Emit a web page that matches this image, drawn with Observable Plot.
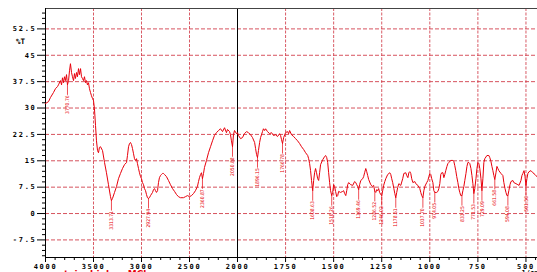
<!DOCTYPE html>
<html><head><meta charset="utf-8">
<script src="https://cdn.jsdelivr.net/npm/d3@7"></script>
<script src="https://cdn.jsdelivr.net/npm/@observablehq/plot@0.6"></script>
<style>
html,body{margin:0;padding:0;overflow:hidden;background:#fff}
g[aria-label="x-axis tick label"] text, g[aria-label="y-axis tick label"] text {letter-spacing:1.7px}
</style>
</head><body><div id="chart"></div>
<script>
const wavenumber = [4000,3969,3948,3917,3896,3875,3865,3844,3833,3823,3813,3802,3792,3781,3771,3760,3750,3740,3729,3719,3708,3698,3688,3677,3667,3656,3646,3635,3625,3615,3604,3594,3583,3573,3563,3552,3542,3531,3521,3510,3500,3490,3479,3469,3458,3448,3438,3427,3406,3385,3365,3344,3323,3313,3302,3281,3260,3240,3219,3198,3177,3156,3146,3135,3125,3115,3104,3094,3083,3073,3063,3052,3042,3031,3021,3010,3000,2990,2979,2969,2958,2948,2938,2927,2917,2906,2885,2875,2865,2854,2844,2833,2823,2813,2802,2792,2781,2771,2760,2740,2719,2698,2677,2656,2635,2615,2594,2563,2542,2521,2500,2479,2458,2438,2417,2406,2396,2385,2375,2365,2354,2344,2323,2302,2281,2260,2240,2219,2198,2177,2156,2135,2115,2104,2083,2073,2063,2052,2042,2031,2010,2000,
1995,1984,1974,1964,1953,1943,1932,1922,1911,1906,1901,1896,1891,1885,1880,1870,1865,1859,1854,1844,1833,1823,1813,1802,1792,1781,1776,1771,1766,1760,1750,1740,1734,1729,1719,1708,1698,1688,1677,1667,1656,1646,1635,1630,1625,1620,1615,1609,1604,1599,1594,1589,1583,1578,1573,1568,1557,1547,1542,1536,1531,1526,1521,1516,1510,1505,1500,1495,1490,1484,1479,1474,1464,1453,1448,1443,1437,1432,1427,1422,1411,1401,1391,1385,1380,1375,1370,1365,1359,1349,1344,1339,1333,1328,1323,1318,1307,1297,1292,1286,1281,1276,1271,1266,1261,1255,1250,1245,1240,1234,1229,1219,1208,1203,1198,1193,1187,1182,1177,1172,1167,1161,1151,1141,1135,1125,1120,1114,1109,1104,1099,1094,1088,1078,1073,1062,1052,1047,1042,1036,1031,1026,1016,1010,1005,1000,995,990,984,979,974,964,958,953,948,943,938,932,927,922,917,911,906,901,891,880,875,870,865,860,854,849,844,839,833,828,823,818,812,807,802,797,792,786,781,776,771,766,760,755,750,745,740,734,729,724,719,714,703,693,688,682,677,672,667,662,656,651,646,641,630,620,615,609,604,599,594,589,583,578,568,563,552,542,536,526,521,516,510,505,500,495,490,484,474,464,453,438];
const transmittance = [31.3,31.8,33.0,34.4,35.5,36.1,36.6,37.8,36.6,38.6,37.2,38.9,37.8,39.5,36.6,37.8,40.6,42.6,40.1,38.9,37.8,39.8,38.4,40.1,38.9,41.2,39.5,41.2,38.9,38.4,37.8,38.9,37.2,37.8,36.6,37.2,35.5,34.4,33.5,32.7,32.1,29.8,25.0,20.7,17.9,17.3,18.8,19.0,17.9,14.5,11.6,8.2,4.8,3.7,4.3,6.0,7.7,9.9,11.4,12.8,13.9,14.5,16.5,19.0,19.9,20.2,19.6,18.5,17.0,15.6,15.1,15.6,14.2,12.8,11.6,10.5,9.9,8.8,8.2,7.1,6.5,5.4,4.5,4.3,4.5,5.1,6.0,6.8,7.1,6.5,6.0,6.5,8.8,10.2,10.8,11.1,11.4,11.4,11.1,10.5,9.4,8.2,7.1,6.3,5.4,4.8,4.5,4.5,4.8,5.1,4.8,5.1,5.7,6.5,7.7,9.1,10.2,11.1,11.6,9.9,11.4,13.1,15.1,17.3,19.0,20.7,22.2,23.0,23.6,24.1,23.3,24.4,23.0,23.9,23.3,22.4,20.7,19.0,22.4,23.6,22.7,23.0,
22.2,21.3,21.6,22.7,23.3,23.0,22.4,21.6,20.2,18.5,16.8,15.9,17.9,20.2,21.6,23.3,24.1,23.6,24.1,23.3,22.7,23.0,22.2,22.4,21.9,22.7,22.2,21.0,19.9,21.6,23.0,23.3,22.7,23.6,22.4,21.9,21.3,20.7,19.9,19.0,18.2,17.3,16.5,15.6,14.2,12.2,9.4,6.5,9.4,11.6,12.8,11.6,9.9,9.4,11.6,13.9,15.3,16.2,16.5,15.9,14.5,11.6,8.8,6.5,5.1,6.0,8.2,7.7,6.3,4.8,5.1,6.3,6.0,6.3,6.5,5.7,5.1,6.5,8.2,8.8,8.2,8.0,9.1,8.8,8.2,7.7,6.8,8.2,9.4,9.9,10.5,11.6,12.8,11.9,10.8,9.7,8.2,7.7,8.0,6.3,6.0,6.8,6.5,7.1,6.0,5.4,5.1,6.5,8.0,9.1,9.9,11.1,11.6,11.1,9.9,8.8,7.1,5.7,4.5,6.0,7.4,8.5,8.0,9.9,11.4,11.6,10.8,10.2,11.6,11.9,11.4,9.9,8.8,9.1,8.5,8.0,7.1,6.0,5.1,4.5,6.5,7.7,8.8,9.4,10.5,11.4,11.1,9.9,8.8,6.5,6.0,6.0,6.3,7.1,8.5,11.1,11.6,11.6,10.2,11.1,12.2,13.4,14.2,14.5,15.1,15.1,14.8,13.6,12.2,10.5,8.8,7.1,6.0,5.1,5.1,6.5,7.7,9.4,11.4,13.4,14.5,14.5,14.2,12.8,10.8,8.5,5.7,7.1,9.9,12.8,14.5,14.2,12.8,9.9,6.5,9.9,14.5,15.6,16.5,16.5,15.9,14.8,13.4,12.2,10.8,9.7,11.6,13.4,12.8,12.2,11.4,10.8,8.8,7.1,6.0,5.1,5.1,6.5,8.2,9.1,9.4,8.8,8.5,8.2,8.0,9.4,10.8,11.4,12.2,10.5,8.0,9.9,11.4,11.9,12.2,11.6,11.1,10.2];
const peakWavenumber = [3771,3313,2927,2365,2052,1896,1766,1609,1510,1370,1286,1250,1177,1036,974,833,771,729,662,594,500];
const peakTransmittance = [36.6,3.7,4.3,9.9,19.0,15.9,19.9,6.5,5.1,6.8,6.3,5.1,4.5,4.5,6.0,5.1,5.7,6.5,9.7,5.1,8.0];
const peakLabels = ["3770.76","3313.71","2927.94","2360.87","2050.88","1896.15","1766.78","1608.63","1510.26","1369.46","1286.52","1246.02","1178.51","1037.70","974.05","833.25","771.53","729.09","661.58","594.08","501.50"];
const xTicks = [4000,3500,3000,2500,2000,1750,1500,1250,1000,750,500];
const yTicks = [-7.5,0,7.5,15,22.5,30,37.5,45,52.5];
const yLabel = "%T";
const xUnit = "1/cm";
const sampleName = "cysteinehiphae MCl";

const RED = "#e8000b";
const GRID = "#d2404c";
const spectrum = wavenumber.map((w, i) => ({w, t: transmittance[i]}));
const peaks = peakWavenumber.map((w, i) => ({w, t: peakTransmittance[i], label: peakLabels[i]}));
const xMinor = d3.range(3900, 2000, -100).concat(d3.range(1950, 440, -50)).filter(v => !xTicks.includes(v));
const yMinor = d3.range(-8, 39).map(i => i * 1.5).filter(v => Math.round(v * 10) % 75 !== 0);
const tickFont = {fontFamily: "DejaVu Sans Mono", fontWeight: "bold", fontSize: 7};
const noLabel = () => "";

const chart = Plot.plot({
  width: 537, height: 272,
  marginLeft: 45, marginTop: 8, marginBottom: 15, marginRight: 0,
  style: {background: "#fff", overflow: "hidden"},
  x: {type: "linear", domain: [4000, 2000, 440], range: [45, 237, 537], label: null},
  y: {domain: [-12.5, 58.3], label: null},
  marks: [
    Plot.gridY(yTicks, {stroke: GRID, strokeOpacity: 0.9, strokeDasharray: "4,2"}),
    Plot.gridX(xTicks.filter(v => v !== 2000 && v !== 4000), {stroke: GRID, strokeOpacity: 0.85, strokeDasharray: "3,1.5"}),
    Plot.ruleX([2000], {stroke: "#000", strokeWidth: 1}),
    Plot.frame({anchor: "top", stroke: "#444"}),
    Plot.frame({anchor: "left", stroke: "#000"}),
    Plot.frame({anchor: "bottom", stroke: "#000"}),
    Plot.axisY(yTicks, {tickSize: 8, tickPadding: 1, tickFormat: d => String(d), ...tickFont, label: null}),
    Plot.axisY(yMinor, {tickSize: 3, tickFormat: noLabel, label: null}),
    Plot.axisX(xTicks, {tickSize: 5, tickPadding: 2, tickFormat: d => String(d), ...tickFont, label: null}),
    Plot.axisX(xMinor, {tickSize: 3, tickFormat: noLabel, label: null}),
    Plot.line(spectrum, {x: "w", y: "t", stroke: RED, strokeWidth: 1, clip: true}),
    Plot.ruleX(peaks, {x: "w", y1: "t", y2: d => d.t - 3, stroke: RED, strokeWidth: 0.7}),
    Plot.text(peaks, {x: "w", y: d => d.t - 3, text: "label", rotate: -90, textAnchor: "end", fontSize: 5, fill: RED, fontFamily: "DejaVu Sans Condensed"}),
    Plot.text([yLabel], {x: 4000, y: 48.8, dx: -25, text: d => d, ...tickFont, fontSize: 7.5}),
    Plot.text([sampleName], {frameAnchor: "bottom-left", dx: 2, dy: 13.5, lineAnchor: "top", textAnchor: "start", text: d => d, fontSize: 9, fontWeight: "bold", fill: RED, fontFamily: "DejaVu Sans"}),
    Plot.text([xUnit], {x: 500, frameAnchor: "bottom", dx: 4, dy: 13, lineAnchor: "top", text: d => d, ...tickFont})
  ]
});
document.getElementById("chart").append(chart);
</script>
</body></html>
